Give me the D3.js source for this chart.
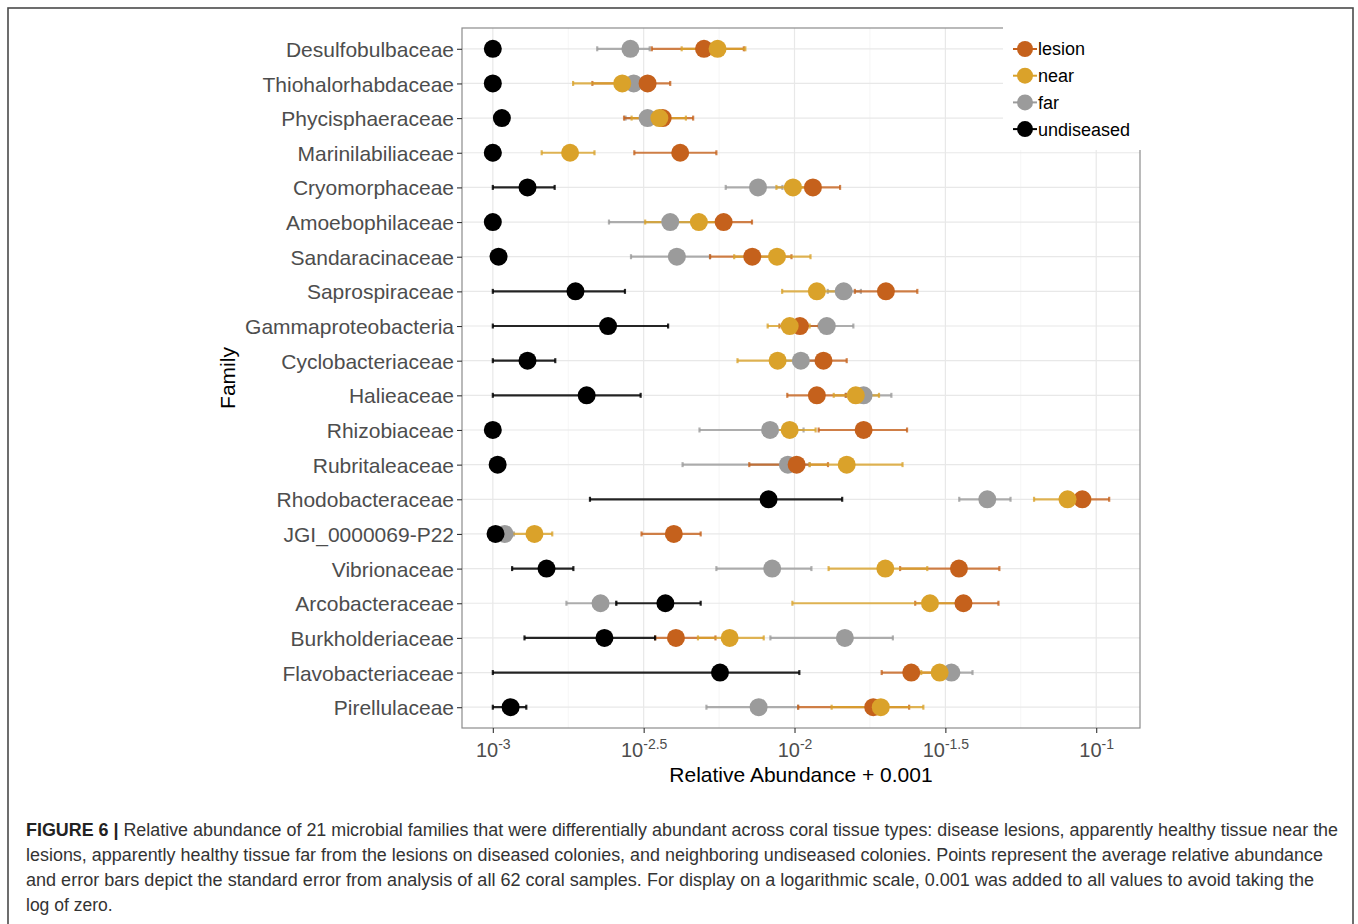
<!DOCTYPE html>
<html>
<head>
<meta charset="utf-8">
<script src="https://cdn.jsdelivr.net/npm/d3@7"></script>
<style>
  body { margin: 0; background: #fff; }
  svg text { font-family: 'Liberation Sans', Arial, Helvetica, sans-serif; }
</style>
</head>
<body>
<svg id="chart" width="1358" height="924"></svg>
<script>
var families = ['Desulfobulbaceae', 'Thiohalorhabdaceae', 'Phycisphaeraceae', 'Marinilabiliaceae',
    'Cryomorphaceae', 'Amoebophilaceae', 'Sandaracinaceae', 'Saprospiraceae', 'Gammaproteobacteria',
    'Cyclobacteriaceae', 'Halieaceae', 'Rhizobiaceae', 'Rubritaleaceae', 'Rhodobacteraceae',
    'JGI_0000069-P22', 'Vibrionaceae', 'Arcobacteraceae', 'Burkholderiaceae', 'Flavobacteriaceae',
    'Pirellulaceae'];

var groups = ['lesion', 'near', 'far', 'undiseased'];
var groupColors = ['#c5611c', '#daa22a', '#9b9b9b', '#000000'];
var drawOrder = ['far', 'lesion', 'near', 'undiseased'];

// log10(relative abundance + 0.001): [mean, mean - se, mean + se]
var lesion = [
    [-2.300, -2.473, -2.168], [-2.487, -2.670, -2.412], [-2.437, -2.565, -2.336], [-2.379, -2.531, -2.259],
    [-1.939, -2.030, -1.849], [-2.235, -2.330, -2.141], [-2.140, -2.280, -2.010], [-1.697, -1.800, -1.593],
    [-1.982, -2.050, -1.920], [-1.904, -1.970, -1.827], [-1.926, -2.024, -1.830], [-1.771, -1.920, -1.627],
    [-1.993, -2.150, -1.889], [-1.046, -1.120, -0.957], [-2.400, -2.507, -2.311], [-1.455, -1.650, -1.321],
    [-1.440, -1.600, -1.324], [-2.393, -2.462, -2.262], [-1.613, -1.711, -1.540], [-1.739, -1.988, -1.620]
];
var near = [
    [-2.255, -2.374, -2.163], [-2.571, -2.734, -2.520], [-2.448, -2.540, -2.360], [-2.744, -2.838, -2.663],
    [-2.005, -2.060, -1.950], [-2.317, -2.495, -2.260], [-2.058, -2.200, -1.947], [-1.926, -2.041, -1.860],
    [-2.016, -2.089, -1.950], [-2.056, -2.189, -1.960], [-1.797, -1.870, -1.720], [-2.016, -2.100, -1.930],
    [-1.827, -1.950, -1.642], [-1.095, -1.206, -1.020], [-2.862, -2.936, -2.803], [-1.699, -1.887, -1.560],
    [-1.551, -2.007, -1.450], [-2.215, -2.320, -2.102], [-1.519, -1.580, -1.460], [-1.714, -1.877, -1.573]
];
var far = [
    [-2.544, -2.654, -2.480], [-2.533, -2.580, -2.490], [-2.487, -2.560, -2.420], [-3.000, -3.000, -3.000],
    [-2.121, -2.228, -2.040], [-2.412, -2.615, -2.330], [-2.390, -2.542, -2.280], [-1.837, -1.890, -1.780],
    [-1.893, -1.960, -1.805], [-1.979, -2.040, -1.920], [-1.771, -1.830, -1.679], [-2.081, -2.315, -1.970],
    [-2.022, -2.371, -1.950], [-1.361, -1.454, -1.284], [-2.961, -2.990, -2.930], [-2.074, -2.259, -1.944],
    [-2.643, -2.756, -2.590], [-1.833, -2.080, -1.674], [-1.480, -1.530, -1.410], [-2.119, -2.292, -1.988]
];
var undiseased = [
    [-3.000, -3.000, -3.000], [-3.000, -3.000, -3.000], [-2.970, -2.985, -2.955], [-3.000, -3.000, -3.000],
    [-2.885, -3.000, -2.795], [-3.000, -3.000, -3.000], [-2.981, -2.990, -2.970], [-2.726, -3.000, -2.562],
    [-2.618, -3.000, -2.419], [-2.885, -3.000, -2.793], [-2.689, -3.000, -2.510], [-3.000, -3.000, -3.000],
    [-2.984, -2.990, -2.975], [-2.086, -2.678, -1.842], [-2.991, -3.000, -2.980], [-2.822, -2.936, -2.733],
    [-2.428, -2.591, -2.311], [-2.630, -2.895, -2.462], [-2.247, -3.000, -1.984], [-2.941, -3.000, -2.889]
];

var tickExponents = ['-3', '-2.5', '-2', '-1.5', '-1'];

var captionLines = [
    'Relative abundance of 21 microbial families that were differentially abundant across coral tissue types: disease lesions, apparently healthy tissue near the',
    'lesions, apparently healthy tissue far from the lesions on diseased colonies, and neighboring undiseased colonies. Points represent the average relative abundance',
    'and error bars depict the standard error from analysis of all 62 coral samples. For display on a logarithmic scale, 0.001 was added to all values to avoid taking the',
    'log of zero.'
];

var series = { lesion: lesion, near: near, far: far, undiseased: undiseased };

var panel = { left: 462, right: 1140, top: 28, bottom: 728 };

// one record per family and tissue type, back on the original scale
var rows = [];
drawOrder.forEach(function(g) {
    series[g].forEach(function(d, i) {
        rows.push({
            family: families[i],
            group: g,
            mean: Math.pow(10, d[0]),
            lo: Math.pow(10, d[1]),
            hi: Math.pow(10, d[2])
        });
    });
});

var color = d3.scaleOrdinal().domain(groups).range(groupColors);

// ggplot style 5% expansion on the log axis
var allLogs = [];
groups.forEach(function(g) { series[g].forEach(function(d) { allLogs = allLogs.concat(d); }); });
var ext = d3.extent(allLogs);
var pad = (ext[1] - ext[0]) * 0.05;

var x = d3.scaleLog()
    .domain([Math.pow(10, ext[0] - pad), Math.pow(10, ext[1] + pad)])
    .range([panel.left, panel.right]);

var y = d3.scalePoint()
    .domain(families)
    .range([panel.top, panel.bottom])
    .padding(0.6);

var tickValues = tickExponents.map(function(e) { return Math.pow(10, +e); });
var minorValues = d3.pairs(tickExponents.map(Number)).map(function(p) { return Math.pow(10, (p[0] + p[1]) / 2); });

var svg = d3.select('#chart');

// outer figure frame
svg.append('rect')
    .attr('x', 8).attr('y', 8)
    .attr('width', 1345).attr('height', 940)
    .attr('fill', 'none')
    .attr('stroke', '#4a4a4a')
    .attr('stroke-width', 1.6);

var grid = svg.append('g').attr('class', 'grid');

grid.selectAll('.minor')
    .data(minorValues)
    .enter().append('line')
        .attr('x1', function(d) { return x(d); }).attr('x2', function(d) { return x(d); })
        .attr('y1', panel.top).attr('y2', panel.bottom)
        .attr('stroke', '#f2f2f2')
        .attr('stroke-width', 0.8);

grid.selectAll('.major')
    .data(tickValues)
    .enter().append('line')
        .attr('x1', function(d) { return x(d); }).attr('x2', function(d) { return x(d); })
        .attr('y1', panel.top).attr('y2', panel.bottom)
        .attr('stroke', '#e8e8e8')
        .attr('stroke-width', 1.2);

grid.selectAll('.row')
    .data(families)
    .enter().append('line')
        .attr('x1', panel.left).attr('x2', panel.right)
        .attr('y1', function(d) { return y(d); }).attr('y2', function(d) { return y(d); })
        .attr('stroke', '#e8e8e8')
        .attr('stroke-width', 1.2);

// panel border
svg.append('rect')
    .attr('x', panel.left).attr('y', panel.top)
    .attr('width', panel.right - panel.left)
    .attr('height', panel.bottom - panel.top)
    .attr('fill', 'none')
    .attr('stroke', '#8c8c8c')
    .attr('stroke-width', 1.2);

// error bars, drawn under all points
var capH = 2.5;
var bars = svg.append('g').attr('class', 'errorbars')
    .selectAll('g')
    .data(rows)
    .enter().append('g')
        .attr('stroke', function(d) { return color(d.group); })
        .attr('stroke-opacity', function(d) { return d.group == 'undiseased' ? 0.85 : 0.8; })
        .attr('stroke-width', 2.2);

bars.append('line')
    .attr('x1', function(d) { return x(d.lo); }).attr('x2', function(d) { return x(d.hi); })
    .attr('y1', function(d) { return y(d.family); }).attr('y2', function(d) { return y(d.family); });

bars.append('line')
    .attr('x1', function(d) { return x(d.lo); }).attr('x2', function(d) { return x(d.lo); })
    .attr('y1', function(d) { return y(d.family) - capH; }).attr('y2', function(d) { return y(d.family) + capH; });

bars.append('line')
    .attr('x1', function(d) { return x(d.hi); }).attr('x2', function(d) { return x(d.hi); })
    .attr('y1', function(d) { return y(d.family) - capH; }).attr('y2', function(d) { return y(d.family) + capH; });

svg.append('g').attr('class', 'points')
    .selectAll('circle')
    .data(rows)
    .enter().append('circle')
        .attr('cx', function(d) { return x(d.mean); })
        .attr('cy', function(d) { return y(d.family); })
        .attr('r', 9)
        .attr('fill', function(d) { return color(d.group); });

// y axis
var yAxis = svg.append('g')
    .attr('transform', 'translate(' + panel.left + ',0)')
    .call(d3.axisLeft(y).tickSize(5).tickPadding(3));
yAxis.select('.domain').remove();
yAxis.selectAll('.tick line').attr('stroke', '#333').attr('stroke-width', 1.1);
yAxis.selectAll('.tick text')
    .style('font-size', '21px')
    .attr('fill', '#4d4d4d')
    .attr('dy', '0.36em');

// x axis with 10^e labels
var xAxis = svg.append('g')
    .attr('transform', 'translate(0,' + panel.bottom + ')')
    .call(d3.axisBottom(x).tickValues(tickValues).tickSize(5).tickPadding(6));
xAxis.select('.domain').remove();
xAxis.selectAll('.tick line').attr('stroke', '#333').attr('stroke-width', 1.1);
xAxis.selectAll('.tick text').each(function(d, i) {
    var t = d3.select(this)
        .text(null)
        .attr('y', 29)
        .attr('dy', null)
        .attr('fill', '#4d4d4d');
    t.append('tspan').style('font-size', '20px').text('10');
    t.append('tspan').style('font-size', '14px').attr('dy', -8).text(tickExponents[i]);
});

// axis titles
svg.append('text')
    .attr('x', (panel.left + panel.right) / 2)
    .attr('y', 782)
    .attr('text-anchor', 'middle')
    .style('font-size', '21px')
    .attr('fill', '#000')
    .text('Relative Abundance + 0.001');

svg.append('text')
    .attr('transform', 'translate(235,' + ((panel.top + panel.bottom) / 2) + ') rotate(-90)')
    .attr('text-anchor', 'middle')
    .style('font-size', '21px')
    .attr('fill', '#000')
    .text('Family');

// legend sits on top of the panel corner
var legend = svg.append('g').attr('class', 'legend');
legend.append('rect')
    .attr('x', 1003).attr('y', 27)
    .attr('width', 139).attr('height', 123)
    .attr('fill', '#fff');

var keys = legend.selectAll('.key')
    .data(groups)
    .enter().append('g')
        .attr('transform', function(d, i) { return 'translate(1025,' + (49 + i * 26.7) + ')'; });

keys.append('line')
    .attr('x1', -12).attr('x2', 12)
    .attr('stroke', function(d) { return color(d); })
    .attr('stroke-width', 2);
keys.append('circle')
    .attr('r', 8)
    .attr('fill', function(d) { return color(d); });
keys.append('text')
    .attr('x', 13)
    .attr('dy', '0.36em')
    .style('font-size', '18px')
    .attr('fill', '#000')
    .text(function(d) { return d; });

// figure caption
var capWidths = [1312, 1297, 1288, null];
var caption = svg.append('g').attr('class', 'caption').attr('fill', '#333');
captionLines.forEach(function(line, i) {
    var t = caption.append('text')
        .attr('x', 26)
        .attr('y', 836 + i * 25)
        .style('font-size', '17.5px');
    if (i == 0) {
        t.append('tspan').style('font-weight', 'bold').attr('fill', '#222').text('FIGURE 6 | ');
    }
    t.append('tspan').text(line);
    if (capWidths[i]) {
        t.attr('textLength', capWidths[i]).attr('lengthAdjust', 'spacingAndGlyphs');
    }
});
</script>
</body>
</html>
